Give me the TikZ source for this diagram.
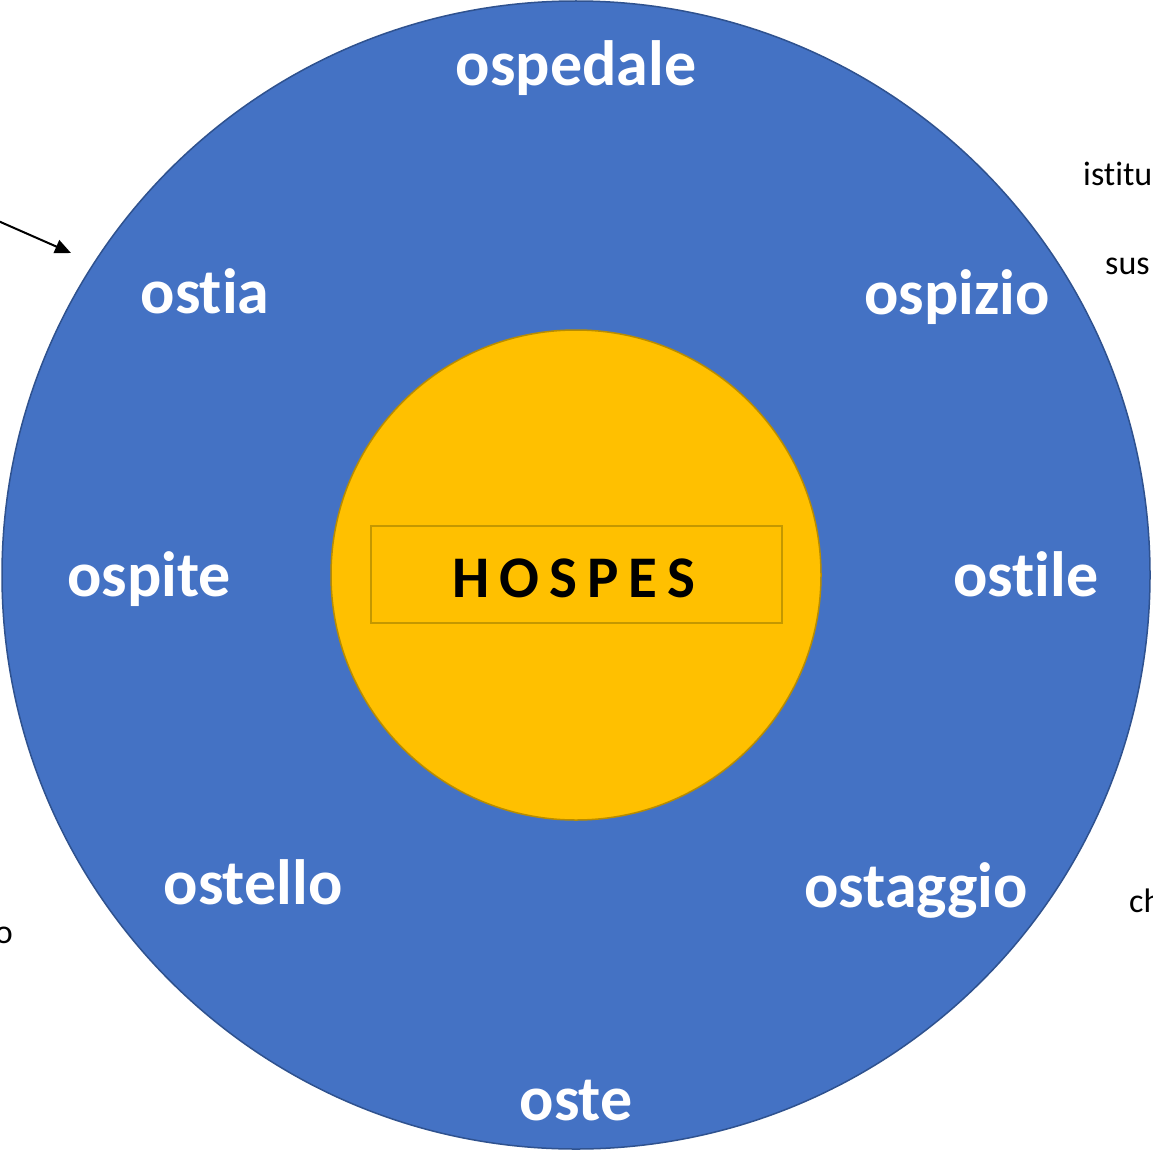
\documentclass[tikz,border=0pt]{standalone}
\usepackage{fontspec}
\setmainfont{Carlito}[Ligatures=NoCommon]
\usetikzlibrary{arrows.meta}
\definecolor{ringblue}{HTML}{4472C4}
\definecolor{ringedge}{HTML}{2F528F}
\definecolor{coregold}{HTML}{FFC000}
\definecolor{coreedge}{HTML}{B88C00}
\definecolor{boxedge}{HTML}{C49800}
\begin{document}
\begin{tikzpicture}[x=1pt,y=-1pt,
  word/.style={anchor=base,inner sep=0pt,text=white,font=\fontsize{64}{64}\selectfont\bfseries},
  note/.style={anchor=base west,inner sep=0pt,text=black,font=\fontsize{34}{34}\selectfont}]
\useasboundingbox (0,0) rectangle (1153,1153);
\fill[white] (0,0) rectangle (1153,1153);
% outer ring and inner disc
\draw[fill=ringblue,draw=ringedge,line width=1.5pt] (576,575) circle[radius=574];
\draw[fill=coregold,draw=coreedge,line width=1.5pt] (576,575) circle[radius=245];
\node[draw=boxedge,line width=2pt,fill=coregold,minimum width=411pt,minimum height=97pt,inner sep=0pt] (core) at (576.5,574.5) {};
\node[anchor=base,inner sep=0pt,font=\fontsize{59}{59}\selectfont\bfseries] (hospes) at (574,597)
  {H\kern10pt O\kern10pt S\kern10pt P\kern10pt E\kern10pt S};
% derived words around the ring
\node[word] (ospedale) at (576,86) {ospedale};
\node[word] (ostia) at (205,313) {ostia};
\node[word] (ospizio) at (957,314) {ospizio};
\node[word] (ospite) at (149,596) {ospite};
\node[word] (ostile) at (1026,596) {ostile};
\node[word] (ostello) at (253,904) {ostello};
\node[word] (ostaggio) at (916,907) {ostaggio};
\node[word] (oste) at (576,1120) {oste};
% side notes running off the edges
\node[note] (n1) at (1083,185) {istitu};
\node[note] (n2) at (1105,274) {sus};
\node[note] (n3) at (1129,912) {ch};
\node[note,anchor=base east] (n4) at (13,943) {o};
% pointer onto the ring
\coordinate (tail) at (-20,213);
\coordinate (head) at (71,253);
\draw[line width=2pt,-{Triangle[length=16pt,width=14pt]}] (tail) -- (head);
\end{tikzpicture}
\end{document}
